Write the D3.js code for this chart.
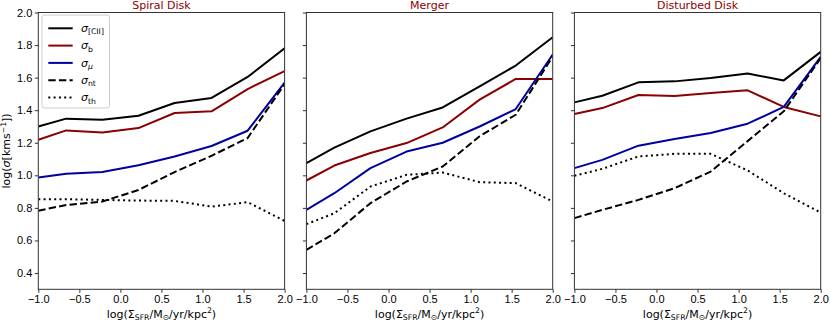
<!DOCTYPE html>
<html>
<head>
<meta charset="utf-8">
<script src="https://cdn.jsdelivr.net/npm/d3@7"></script>
<style>
  body { margin: 0; background: #fff; }
  svg { font-family: "DejaVu Sans", sans-serif; }
  .tick text { font-size: 11px; fill: #000; }
  .tick line { stroke: #333; }
</style>
</head>
<body>
<svg width="830" height="321"></svg>
<script>
// x positions (bin centres) shared by all panels
var xVals = [-1.0, -0.66, -0.22, 0.22, 0.66, 1.11, 1.55, 2.0];

var panelNames = ["Spiral Disk", "Merger", "Disturbed Disk"];

// Spiral Disk
var spiralCII = [1.300, 1.348, 1.342, 1.366, 1.444, 1.475, 1.604, 1.780];
var spiralB   = [1.218, 1.276, 1.263, 1.290, 1.383, 1.393, 1.530, 1.640];
var spiralMu  = [0.987, 1.009, 1.020, 1.062, 1.116, 1.180, 1.274, 1.570];
var spiralNt  = [0.783, 0.818, 0.839, 0.910, 1.020, 1.120, 1.229, 1.560];
var spiralTh  = [0.853, 0.853, 0.849, 0.845, 0.843, 0.808, 0.835, 0.720];

// Merger
var mergerCII = [1.075, 1.170, 1.270, 1.348, 1.417, 1.547, 1.674, 1.848];
var mergerB   = [0.968, 1.060, 1.137, 1.198, 1.294, 1.465, 1.592, 1.592];
var mergerMu  = [0.788, 0.890, 1.044, 1.146, 1.200, 1.300, 1.407, 1.742];
var mergerNt  = [0.542, 0.644, 0.829, 0.962, 1.054, 1.240, 1.372, 1.730];
var mergerTh  = [0.700, 0.767, 0.931, 1.003, 1.017, 0.958, 0.952, 0.839];

// Disturbed Disk
var distCII = [1.448, 1.489, 1.571, 1.577, 1.598, 1.625, 1.583, 1.758];
var distB   = [1.377, 1.413, 1.493, 1.487, 1.506, 1.522, 1.420, 1.362];
var distMu  = [1.044, 1.095, 1.182, 1.223, 1.260, 1.317, 1.420, 1.727];
var distNt  = [0.737, 0.788, 0.849, 0.921, 1.023, 1.210, 1.393, 1.720];
var distTh  = [0.997, 1.040, 1.116, 1.132, 1.132, 1.030, 0.890, 0.771];

var xTicks = [-1.0, -0.5, 0.0, 0.5, 1.0, 1.5, 2.0];
var yTicks = [0.4, 0.6, 0.8, 1.0, 1.2, 1.4, 1.6, 1.8, 2.0];

var panelData = [
  [spiralCII, spiralB, spiralMu, spiralNt, spiralTh],
  [mergerCII, mergerB, mergerMu, mergerNt, mergerTh],
  [distCII, distB, distMu, distNt, distTh]
];

// style per series (same order as panelData rows)
var styles = [
  {color: "#000000", dash: null,    sub: "[CII]"},
  {color: "#8b0000", dash: null,    sub: "b"},
  {color: "#0000a0", dash: null,    sub: "\u03bc", subItalic: true},
  {color: "#000000", dash: "7.4,3.2", sub: "nt"},
  {color: "#000000", dash: "2,3.3", sub: "th"}
];

var svg = d3.select("svg");

var panelLeft = [38.3, 306.4, 574.4],
    panelW = 246.3,
    plotTop = 12.5,
    plotBottom = 289.3;

var y = d3.scaleLinear().domain([0.3, 2.0]).range([plotBottom, plotTop]);
var fmt = function(d) { return d3.format(".1f")(d); };

panelNames.forEach(function(name, p) {
  var x = d3.scaleLinear().domain([-1.0, 2.0]).range([panelLeft[p], panelLeft[p] + panelW]);
  var g = svg.append("g");

  var line = d3.line()
    .x(function(d, i) { return x(xVals[i]); })
    .y(function(d) { return y(d); });

  var clipId = "clip" + p;
  svg.append("clipPath").attr("id", clipId)
    .append("rect")
    .attr("x", x(-1)).attr("y", plotTop)
    .attr("width", panelW).attr("height", plotBottom - plotTop);

  panelData[p].forEach(function(series, s) {
    g.append("path")
      .datum(series)
      .attr("clip-path", "url(#" + clipId + ")")
      .attr("d", line)
      .attr("fill", "none")
      .attr("stroke", styles[s].color)
      .attr("stroke-width", 2)
      .attr("stroke-dasharray", styles[s].dash)
      .attr("stroke-linejoin", "round");
  });

  // axes
  var xa = g.append("g")
    .attr("transform", "translate(0," + plotBottom + ")")
    .call(d3.axisBottom(x).tickValues(xTicks).tickFormat(fmt).tickSize(3.5).tickSizeOuter(0).tickPadding(2.5));
  xa.select(".domain").remove();

  var ya = g.append("g")
    .attr("transform", "translate(" + x(-1) + ",0)")
    .call(d3.axisLeft(y).tickValues(yTicks)
      .tickFormat(p == 0 ? fmt : "").tickSize(3.5).tickSizeOuter(0).tickPadding(2.5));
  ya.select(".domain").remove();

  // frame
  g.append("rect")
    .attr("x", x(-1)).attr("y", plotTop)
    .attr("width", panelW).attr("height", plotBottom - plotTop)
    .attr("fill", "none").attr("stroke", "#333").attr("stroke-width", 1);

  // title
  g.append("text")
    .attr("x", x(-1) + panelW / 2).attr("y", 8.5)
    .attr("text-anchor", "middle")
    .attr("font-size", 11).attr("fill", "#8b0000")
    .text(name);

  // x label
  var xl = g.append("text")
    .attr("x", x(-1) + panelW / 2).attr("y", 317.5)
    .attr("text-anchor", "middle").attr("font-size", 11);
  xl.append("tspan").text("log(\u03a3");
  xl.append("tspan").attr("font-size", 7.7).attr("dy", 2.2).text("SFR");
  xl.append("tspan").attr("dy", -2.2).text("/M");
  xl.append("tspan").attr("font-size", 7.7).attr("dy", 2.2).text("\u2299");
  xl.append("tspan").attr("dy", -2.2).text("/yr/kpc");
  xl.append("tspan").attr("font-size", 7.7).attr("dy", -4.5).text("2");
  xl.append("tspan").attr("dy", 4.5).text(")");
});

// y label
var yl = svg.append("text")
  .attr("transform", "translate(10," + (plotTop + plotBottom) / 2 + ") rotate(-90)")
  .attr("text-anchor", "middle").attr("font-size", 11);
yl.append("tspan").text("log(");
yl.append("tspan").attr("font-style", "italic").text("\u03c3");
yl.append("tspan").text("[kms");
yl.append("tspan").attr("font-size", 7.7).attr("dy", -4.5).text("\u22121");
yl.append("tspan").attr("dy", 4.5).text("])");

// legend
var leg = svg.append("g");
leg.append("rect")
  .attr("x", 42).attr("y", 15).attr("width", 67.5).attr("height", 93)
  .attr("rx", 2.5).attr("fill", "#fff").attr("fill-opacity", 0.8)
  .attr("stroke", "#ccc").attr("stroke-width", 1);

styles.forEach(function(st, i) {
  var ly = 28.3 + i * 17.3;
  leg.append("line")
    .attr("x1", 48.3).attr("x2", 72.7).attr("y1", ly).attr("y2", ly)
    .attr("stroke", st.color).attr("stroke-width", 2)
    .attr("stroke-dasharray", st.dash);
  var t = leg.append("text")
    .attr("x", 81).attr("y", ly + 3.8).attr("font-size", 11);
  t.append("tspan").attr("font-style", "italic").text("\u03c3");
  t.append("tspan").attr("font-size", 7.7).attr("dy", 2.2)
    .attr("font-style", st.subItalic ? "italic" : "normal").text(st.sub);
});
</script>
</body>
</html>
